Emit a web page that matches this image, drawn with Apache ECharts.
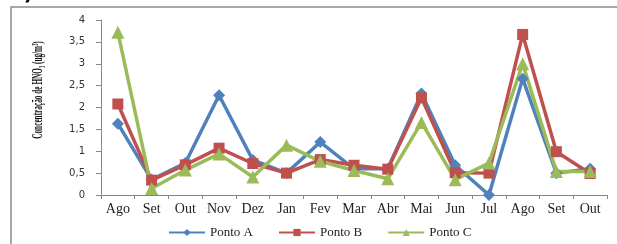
<!DOCTYPE html>
<html>
<head>
<meta charset="utf-8">
<script src="https://cdn.jsdelivr.net/npm/echarts@6/dist/echarts.min.js"></script>
<style>
  html, body { margin: 0; padding: 0; background: #fff; }
  #chart { width: 617px; height: 244px; }
</style>
</head>
<body>
<div id="chart"></div>
<script>
var chart = echarts.init(document.getElementById('chart'));

const months = ['Ago', 'Set', 'Out', 'Nov', 'Dez', 'Jan', 'Fev', 'Mar', 'Abr', 'Mai', 'Jun', 'Jul', 'Ago', 'Set', 'Out'];
const pontoA = [1.63, 0.35, 0.73, 2.28, 0.8, 0.5, 1.21, 0.6, 0.6, 2.32, 0.68, 0.0, 2.66, 0.5, 0.6];
const pontoB = [2.08, 0.34, 0.69, 1.07, 0.72, 0.5, 0.81, 0.68, 0.59, 2.22, 0.51, 0.5, 3.67, 0.99, 0.49];
const pontoC = [3.72, 0.15, 0.57, 0.94, 0.41, 1.14, 0.77, 0.56, 0.37, 1.66, 0.35, 0.73, 3.0, 0.54, 0.54];

const serif = '"Liberation Serif", "DejaVu Serif", serif';
const axisGray = '#868686';

function serie(name, data, color, symbol, size) {
  return {
    name: name,
    type: 'line',
    data: data,
    symbol: symbol,
    symbolSize: size,
    lineStyle: { color: color, width: 3.5 },
    itemStyle: { color: color },
    animation: false
  };
}

var option = {
  backgroundColor: '#fff',
  grid: { left: 101, right: 10, top: 20, bottom: 49 },
  xAxis: {
    type: 'category',
    data: months,
    boundaryGap: true,
    axisLine: { lineStyle: { color: axisGray } },
    axisTick: { show: true, length: 4, lineStyle: { color: axisGray } },
    axisLabel: {
      interval: 0,
      margin: 7,
      fontFamily: serif,
      fontSize: 14,
      color: '#222'
    }
  },
  yAxis: {
    type: 'value',
    min: 0,
    max: 4,
    interval: 0.5,
    axisLine: { show: true, lineStyle: { color: axisGray } },
    axisTick: { show: true, inside: false, length: 5, lineStyle: { color: axisGray } },
    splitLine: { show: false },
    axisLabel: {
      margin: 16,
      fontFamily: '"DejaVu Sans", Verdana, sans-serif',
      fontSize: 10,
      color: '#333',
      formatter: function (v) { return String(v).replace('.', ','); }
    }
  },
  legend: {
    bottom: 0,
    left: 163,
    itemWidth: 36,
    itemHeight: 9,
    itemGap: 25,
    textStyle: { fontFamily: serif, fontSize: 13, color: '#222' },
    data: ['Ponto A', 'Ponto B', 'Ponto C']
  },
  graphic: [
    {
      type: 'rect',
      shape: { x: 11, y: 7, width: 640, height: 260 },
      style: { fill: 'none', stroke: '#8c8c8c', lineWidth: 1.5 },
      silent: true
    },
    {
      type: 'text',
      x: 12,
      y: 5,
      style: {
        text: 'c)',
        font: 'bold 20px "DejaVu Sans", sans-serif',
        fill: '#000',
        textVerticalAlign: 'bottom'
      }
    },
    {
      type: 'text',
      x: 38,
      y: 90,
      rotation: Math.PI / 2,
      scaleX: 0.52,
      style: {
        text: 'Concentração de HNO\u2083 (ug/m\u00b3)',
        font: 'bold 14px "Liberation Serif", serif',
        fill: '#111',
        textAlign: 'center',
        textVerticalAlign: 'middle'
      }
    }
  ],
  series: [
    serie('Ponto A', pontoA, '#4F81BD', 'diamond', 12),
    serie('Ponto B', pontoB, '#C0504D', 'rect', 11),
    serie('Ponto C', pontoC, '#9BBB59', 'triangle', 13)
  ]
};

option && chart.setOption(option);
</script>
</body>
</html>
